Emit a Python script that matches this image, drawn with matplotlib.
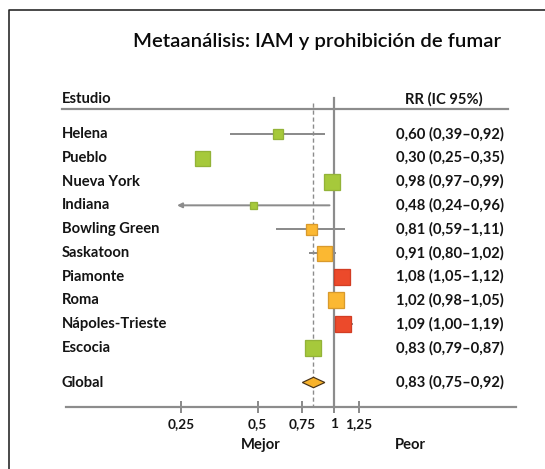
import numpy as np
import matplotlib
matplotlib.use("Agg")
import matplotlib.pyplot as plt
from matplotlib.lines import Line2D
import matplotlib.transforms as mtransforms
from matplotlib.ticker import FixedLocator, FixedFormatter, NullLocator

# ---------------- data ----------------
studies = ["Helena", "Pueblo", "Nueva York", "Indiana", "Bowling Green",
           "Saskatoon", "Piamonte", "Roma", "Nápoles-Trieste", "Escocia"]
rr = [0.60, 0.30, 0.98, 0.48, 0.81, 0.91, 1.08, 1.02, 1.09, 0.83]
ci_low = [0.39, 0.25, 0.97, 0.24, 0.59, 0.80, 1.05, 0.98, 1.00, 0.79]
ci_high = [0.92, 0.35, 0.99, 0.96, 1.11, 1.02, 1.12, 1.05, 1.19, 0.87]
weights = [10, 15, 16, 7, 11, 15, 16, 16, 16, 16]   # relative box sizes
global_label = "Global"
global_rr = 0.83
global_low = 0.75
global_high = 0.92
tick_values = [0.25, 0.5, 0.75, 1, 1.25]
tick_labels = ["0,25", "0,5", "0,75", "1", "1,25"]
title = "Metaanálisis: IAM y prohibición de fumar"
col_study = "Estudio"
col_rr = "RR (IC 95%)"
better_label = "Mejor"
worse_label = "Peor"
arrow_studies = ["Indiana"]
hidden_ci_studies = ["Pueblo"]   # CI whisker not drawn in the original

# ---------------- style ----------------
W, H, DPI = 545, 469, 100
PX = 72.0 / DPI  # points per pixel
FONT = ["Lato", "DejaVu Sans"]
TXT = "#141414"
GRAY = "#8c8c8c"
GREEN, GREEN_E = "#a6c93b", "#93b338"
ORANGE, ORANGE_E = "#fbb832", "#d99a2c"
RED, RED_E = "#ec4a2b", "#d23d24"
FS = 10.6

def fmt(v):
    return f"{v:.2f}".replace(".", ",")

def colors_for(lo, hi):
    if hi < 1:
        return GREEN, GREEN_E
    if lo >= 1:
        return RED, RED_E
    return ORANGE, ORANGE_E

plt.rcParams["font.family"] = FONT

fig = plt.figure(figsize=(W / DPI, H / DPI), dpi=DPI)
fig.patch.set_facecolor("white")

# axes region in pixels
ax_l, ax_r, ax_top, ax_bot = 66, 516, 90, 407
ax = fig.add_axes([ax_l / W, (H - ax_bot) / H, (ax_r - ax_l) / W, (ax_bot - ax_top) / H])
ax.set_xscale("log")
ax.set_xlim(0.0875, 5.23)
n = len(studies)
y_global = n + 0.45
ax.set_ylim(11.48, -1.85)

for s in ["left", "right", "top"]:
    ax.spines[s].set_visible(False)
ax.spines["bottom"].set_color(GRAY)
ax.spines["bottom"].set_linewidth(2.2 * PX)
ax.yaxis.set_visible(False)
ax.xaxis.set_major_locator(FixedLocator(tick_values))
ax.xaxis.set_major_formatter(FixedFormatter(tick_labels))
ax.xaxis.set_minor_locator(NullLocator())
ax.tick_params(axis="x", direction="inout", length=9 * PX * 1.39, width=2 * PX,
               color=GRAY, pad=3.5, labelsize=9.8, labelcolor=TXT)
for lab in ax.get_xticklabels():
    lab.set_fontweight("bold")

blend = mtransforms.blended_transform_factory(ax.transAxes, ax.transData)

# reference lines
ax.plot([1, 1], [-1.53, 11.48], color=GRAY, lw=2 * PX * 1.1, zorder=1, clip_on=False)
ax.plot([global_rr, global_rr], [-1.3, 11.48], color=GRAY, lw=1.4 * PX,
        ls=(0, (3, 2)), zorder=1, clip_on=False)

# header
ax.plot([(62 - ax_l) / (ax_r - ax_l), (508 - ax_l) / (ax_r - ax_l)], [-1.05, -1.05],
        transform=blend, color=GRAY, lw=2.2 * PX, clip_on=False, zorder=2)
x_lab = (62 - ax_l) / (ax_r - ax_l)
x_val = (504 - ax_l) / (ax_r - ax_l)
x_hdr = (483 - ax_l) / (ax_r - ax_l)
ax.text(x_lab, -1.47, col_study, transform=blend, ha="left", va="center",
        fontsize=FS, fontweight="bold", color=TXT)
ax.text(x_hdr, -1.47, col_rr, transform=blend, ha="right", va="center",
        fontsize=FS, fontweight="bold", color=TXT)

# studies
for i, (name, r, lo, hi, w) in enumerate(zip(studies, rr, ci_low, ci_high, weights)):
    fc, ec = colors_for(lo, hi)
    if name in arrow_studies:
        ax.annotate("", xy=(lo, i), xytext=(hi, i),
                    arrowprops=dict(arrowstyle="-|>", color=GRAY, lw=2 * PX,
                                    mutation_scale=7, shrinkA=0, shrinkB=0), zorder=2)
    elif name not in hidden_ci_studies:
        ax.plot([lo, hi], [i, i], color=GRAY, lw=2 * PX, zorder=2, solid_capstyle="butt")
    ax.plot([r], [i], marker="s", ms=w * PX, mfc=fc, mec=ec, mew=1.0 * PX * 1.3, zorder=3)
    ax.text(x_lab, i, name, transform=blend, ha="left", va="center",
            fontsize=FS, fontweight="bold", color=TXT)
    ax.text(x_val, i, f"{fmt(r)} ({fmt(lo)}–{fmt(hi)})", transform=blend,
            ha="right", va="center", fontsize=FS, fontweight="bold", color=TXT)

# global diamond
dh = 0.22
ax.fill([global_low, global_rr, global_high, global_rr],
        [y_global, y_global - dh, y_global, y_global + dh],
        facecolor="#f8b32c", edgecolor="#4a3418", lw=1.2 * PX, zorder=4)
ax.text(x_lab, y_global, global_label, transform=blend, ha="left", va="center",
        fontsize=FS, fontweight="bold", color=TXT)
ax.text(x_val, y_global,
        f"{fmt(global_rr)} ({fmt(global_low)}–{fmt(global_high)})",
        transform=blend, ha="right", va="center", fontsize=FS, fontweight="bold", color=TXT)

# title and bottom labels
fig.text(317 / W, 1 - 42 / H, title, ha="center", va="center", fontsize=14.6,
         color="#0a0a0a", fontweight="semibold")
fig.text(261 / W, 1 - 445 / H, better_label, ha="center", va="center",
         fontsize=FS, fontweight="bold", color=TXT)
fig.text(410 / W, 1 - 445 / H, worse_label, ha="center", va="center",
         fontsize=FS, fontweight="bold", color=TXT)

# frame (top and left edges)
fig.add_artist(Line2D([9 / W, 9 / W, 1.0], [0.0, 1 - 10 / H, 1 - 10 / H],
                      transform=fig.transFigure, color="#222222", lw=1.6 * PX))

fig.savefig("out.png", dpi=DPI, facecolor="white")
